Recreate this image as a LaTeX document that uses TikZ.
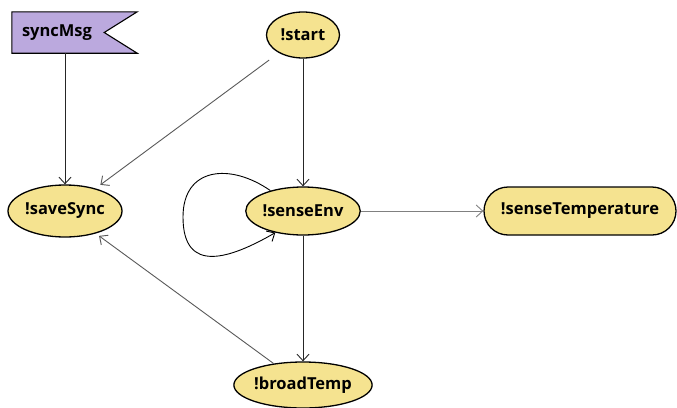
\documentclass[tikz,border=0pt]{standalone}
\usepackage{fontspec}
\setmainfont{Open Sans}
\usetikzlibrary{shapes.geometric,shapes.misc,arrows.meta,calc}
\pgfdeclarelayer{background}
\pgfsetlayers{background,main}
\definecolor{nodeyellow}{HTML}{F5E390}
\definecolor{flagpurple}{HTML}{BBA9DE}
\begin{document}
\begin{tikzpicture}[x=1pt,y=-1pt,
  every node/.style={font=\fontsize{16.5}{18}\selectfont\bfseries},
  state/.style={ellipse, draw=black, line width=1.3pt, fill=nodeyellow, inner sep=0pt},
  wide/.style={rounded rectangle, draw=black, line width=1.3pt, fill=nodeyellow, inner sep=0pt},
  arr/.style={-{Straight Barb[length=6.5pt,width=12pt]}, line width=0.9pt},
  dark/.style={arr, draw=black!85},
  mid/.style={arr, draw=black!65},
  light/.style={arr, draw=black!50}]
\useasboundingbox (0,0) rectangle (677,407);

% flag-shaped message node
\node[rectangle, minimum width=125pt, minimum height=41pt, inner sep=0pt,
      text width=105pt, align=left] (sm) at (74.5,32.5) {syncMsg};
\begin{pgfonlayer}{background}
\draw[fill=flagpurple, line width=1.1pt]
  (sm.north west) -- (sm.north east) -- ($(sm.east)+(-33,0)$) -- (sm.south east)
  -- (sm.south west) -- cycle;
\end{pgfonlayer}

\node[state, minimum width=73pt, minimum height=46pt] (st) at (303,35) {!start};
\node[state, minimum width=114pt, minimum height=52pt] (ss) at (65,211) {!saveSync};
\node[state, minimum width=113pt, minimum height=48pt] (se) at (303,211) {!senseEnv};
\node[wide, minimum width=192pt, minimum height=48pt] (stp) at (580,211) {!senseTemperature};
\node[state, minimum width=133pt, minimum height=46pt] (bt) at (303,385) {!broadTemp};

\coordinate (loopL) at (183,217);

\draw[dark] (ss.north |- sm.south) -- (ss.north);
\draw[mid, shorten <=12pt, shorten >=6pt] (st) -- (ss);
\draw[dark] (st.south) -- (se.north);
\draw[light] (se.east) -- (stp.west);
\draw[dark] (se.south) -- (bt.north);
\draw[mid, shorten >=4pt] (bt) -- (ss);
\draw[arr, draw=black] (se.148) .. controls +(-40,-28) and +(0,-50) .. (loopL)
  .. controls +(0,58) and +(-45,26) .. (se.218);
\end{tikzpicture}
\end{document}
